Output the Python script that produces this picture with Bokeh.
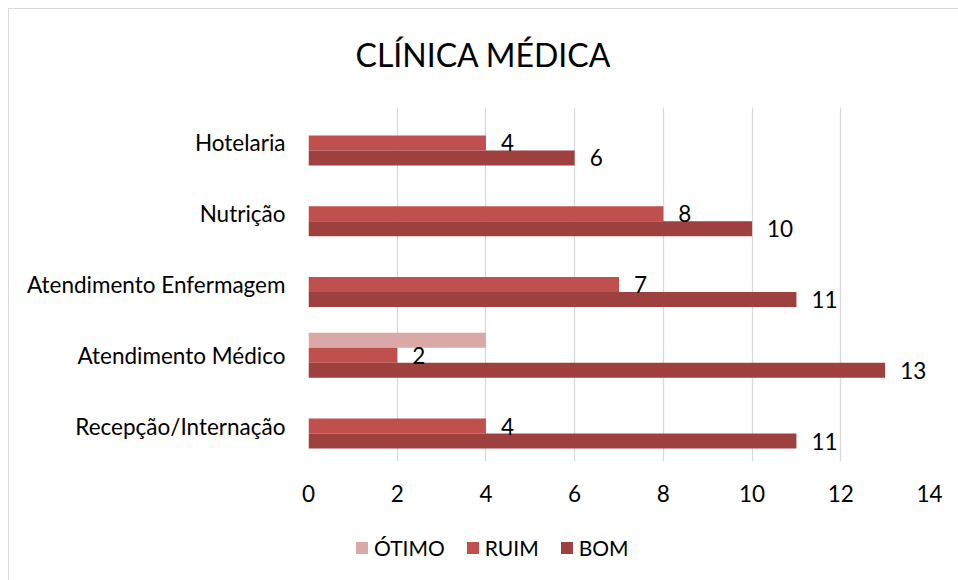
from bokeh.plotting import figure
from bokeh.layouts import column
from bokeh.models import (ColumnDataSource, Range1d, FactorRange, LabelSet,
                          Legend, LegendItem, FixedTicker)
from bokeh.core.properties import value
from bokeh.transform import dodge
from bokeh.embed import file_html
from bokeh.resources import INLINE

categories = ["Recepção/Internação", "Atendimento Médico", "Atendimento Enfermagem",
              "Nutrição", "Hotelaria"]
otimo = [0, 4, 0, 0, 0]
ruim = [4, 2, 7, 8, 4]
bom = [11, 13, 11, 10, 6]
series_names = ["ÓTIMO", "RUIM", "BOM"]
x_ticks = [0, 2, 4, 6, 8, 10, 12, 14]
title_text = "CLÍNICA MÉDICA"

colors = {"ÓTIMO": "#DBA8A8", "RUIM": "#C0504D", "BOM": "#9E413E"}
FONT = "Lato"
FS = "22.5px"

src = ColumnDataSource(dict(cat=categories, otimo=otimo, ruim=ruim, bom=bom,
                            ruim_lbl=[str(v) for v in ruim],
                            bom_lbl=[str(v) for v in bom]))

# title strip (its frame is aligned with the chart's frame)
tf = figure(width=950, height=98, output_backend="svg", toolbar_location=None,
            x_axis_type=None, y_axis_type=None, x_range=Range1d(0, 1),
            y_range=Range1d(0, 1), min_border=0)
tf.outline_line_color = None
tf.grid.grid_line_color = None
tf.title.text = title_text
tf.title.align = "left"
tf.title.offset = 47
tf.title.text_font = FONT
tf.title.text_font_size = "32px"
tf.title.text_font_style = "normal"
tf.title.text_color = "#000000"
tf.title.vertical_align = "top"
tf.title.standoff = 50

p = figure(width=950, height=407, output_backend="svg", toolbar_location=None,
           y_range=FactorRange(*categories, range_padding=0),
           x_range=Range1d(0, 14),
           min_border_left=299, min_border_right=30, min_border_top=0,
           min_border_bottom=53)
p.outline_line_color = None
p.ygrid.grid_line_color = None
p.xgrid.grid_line_color = "#D9D9D9"
p.xgrid.grid_line_width = 1.3
p.xaxis.ticker = FixedTicker(ticks=x_ticks)

for ax in (p.xaxis[0], p.yaxis[0]):
    ax.axis_line_color = None
    ax.major_tick_line_color = None
    ax.minor_tick_line_color = None
    ax.major_tick_out = 0
    ax.major_tick_in = 0
    ax.minor_tick_out = 0
    ax.major_label_text_font = FONT
    ax.major_label_text_font_size = FS
    ax.major_label_text_color = "#000000"
p.xaxis.major_label_standoff = 23
p.yaxis.major_label_standoff = 23

bh = 0.212
r_ot = p.hbar(y=dodge("cat", bh, range=p.y_range), right="otimo", height=bh,
              source=src, color=colors["ÓTIMO"], line_color=None)
r_ru = p.hbar(y=dodge("cat", 0, range=p.y_range), right="ruim", height=bh,
              source=src, color=colors["RUIM"], line_color=None)
r_bo = p.hbar(y=dodge("cat", -bh, range=p.y_range), right="bom", height=bh,
              source=src, color=colors["BOM"], line_color=None)

for col, lbl, off in (("ruim", "ruim_lbl", 0), ("bom", "bom_lbl", -bh)):
    ls = LabelSet(x=col, y=dodge("cat", off, range=p.y_range), text=lbl, source=src,
                  x_offset=15, text_align="left", text_baseline="middle",
                  text_font=value(FONT), text_font_size=value(FS),
                  text_color="#000000")
    p.add_layout(ls)

# legend strip below the chart (its frame is aligned with the chart's frame)
lf = figure(width=950, height=67, output_backend="svg", toolbar_location=None,
            x_axis_type=None, y_axis_type=None, x_range=Range1d(0, 1),
            y_range=Range1d(0, 1), min_border=0)
lf.outline_line_color = None
lf.grid.grid_line_color = None
leg_r = [lf.hbar(y=[-10], left=[0], right=[0], height=0.1, color=colors[n],
                 line_color=None) for n in series_names]
legend = Legend(items=[LegendItem(label=n, renderers=[r]) for n, r in zip(series_names, leg_r)],
                orientation="horizontal", location=(46, 21),
                glyph_width=15, glyph_height=15, label_standoff=5, spacing=20,
                padding=0, margin=0, border_line_color=None,
                background_fill_alpha=0,
                label_text_font=FONT, label_text_font_size="21px",
                label_text_color="#000000")
lf.add_layout(legend)

layout = column(tf, p, lf, spacing=0)
layout.styles = {"margin-left": "8px", "margin-top": "8px",
                 "border-top": "1px solid #D9D9D9", "border-left": "1px solid #D9D9D9"}

open("out.html", "w").write(file_html(layout, INLINE))
